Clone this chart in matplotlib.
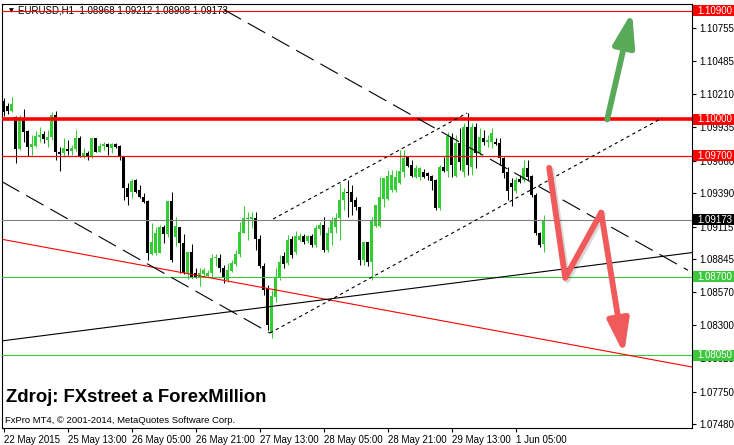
import numpy as np
import matplotlib.pyplot as plt
import matplotlib.patheffects as pe
from matplotlib.patches import Rectangle

plt.rcParams['font.family'] = ['Liberation Sans', 'DejaVu Sans']

# EURUSD H1 candles, first bar 22 May 2015 21:00
opens = [
    1.10153, 1.10112, 1.10070, 1.10021, 1.09756, 1.10012, 1.09905, 1.09773, 1.09781, 1.09855,
    1.09880, 1.09830, 1.09855, 1.10037, 1.09731, 1.09723, 1.09756, 1.09739, 1.09756, 1.09847,
    1.09698, 1.09723, 1.09698, 1.09847, 1.09731, 1.09781, 1.09797, 1.09764, 1.09797, 1.09781,
    1.09690, 1.09434, 1.09400, 1.09500, 1.09417, 1.09359, 1.09326, 1.08888, 1.08896, 1.08896,
    1.09111, 1.09053, 1.09326, 1.09028, 1.09111, 1.08979, 1.08731, 1.08904, 1.08731, 1.08697,
    1.08722, 1.08706, 1.08731, 1.08855, 1.08855, 1.08772, 1.08673, 1.08747, 1.08805, 1.08888,
    1.09061, 1.09177, 1.09177, 1.09185, 1.09012, 1.08788, 1.08607, 1.08235, 1.08532, 1.08697,
    1.08871, 1.08813, 1.09012, 1.08904, 1.09003, 1.09037, 1.08995, 1.09037, 1.08962, 1.09094,
    1.09128, 1.08921, 1.09061, 1.09111, 1.09185, 1.09334, 1.09400, 1.09400, 1.09334, 1.09276,
    1.08838, 1.08987, 1.08822, 1.09119, 1.09119, 1.09343, 1.09343, 1.09417, 1.09417, 1.09475,
    1.09566, 1.09690, 1.09624, 1.09524, 1.09524, 1.09566, 1.09558, 1.09533, 1.09500, 1.09268,
    1.09607, 1.09574, 1.09855, 1.09533, 1.09806, 1.09566, 1.09938, 1.09607, 1.09938, 1.09723,
    1.09847, 1.09814, 1.09814, 1.09814, 1.09806, 1.09682, 1.09566, 1.09475, 1.09409, 1.09508,
    1.09500, 1.09599, 1.09533, 1.09376, 1.09061, 1.08968,
]
highs = [
    1.10178, 1.10136, 1.10186, 1.10029, 1.10037, 1.10087, 1.09913, 1.09872, 1.09905, 1.09938,
    1.09905, 1.09913, 1.10062, 1.10070, 1.09773, 1.09847, 1.09830, 1.09789, 1.09913, 1.09864,
    1.09764, 1.09739, 1.09847, 1.09847, 1.09806, 1.09814, 1.09806, 1.09806, 1.09806, 1.09789,
    1.09690, 1.09475, 1.09508, 1.09508, 1.09458, 1.09392, 1.09334, 1.09144, 1.09111, 1.09128,
    1.09128, 1.09326, 1.09400, 1.09194, 1.09111, 1.09053, 1.08904, 1.08970, 1.08772, 1.08772,
    1.08772, 1.08755, 1.08888, 1.08888, 1.08888, 1.08797, 1.08813, 1.08838, 1.08921, 1.09152,
    1.09285, 1.09235, 1.09235, 1.09235, 1.09045, 1.08813, 1.08631, 1.08590, 1.08772, 1.08879,
    1.08904, 1.09045, 1.09037, 1.09078, 1.09061, 1.09053, 1.09045, 1.09053, 1.09128, 1.09152,
    1.09194, 1.09111, 1.09194, 1.09227, 1.09475, 1.09434, 1.09500, 1.09458, 1.09359, 1.09276,
    1.08987, 1.08987, 1.09194, 1.09293, 1.09524, 1.09516, 1.09582, 1.09582, 1.09582, 1.09748,
    1.09748, 1.09690, 1.09665, 1.09624, 1.09607, 1.09591, 1.09566, 1.09541, 1.09508, 1.09624,
    1.09690, 1.09897, 1.09888, 1.09872, 1.09930, 1.09971, 1.10054, 1.09971, 1.09971, 1.09930,
    1.09913, 1.09872, 1.09930, 1.09847, 1.09847, 1.09690, 1.09607, 1.09516, 1.09524, 1.09541,
    1.09665, 1.09665, 1.09541, 1.09392, 1.09070, 1.09212,
]
lows = [
    1.10029, 1.10045, 1.10062, 1.09640, 1.09748, 1.09814, 1.09698, 1.09706, 1.09773, 1.09814,
    1.09806, 1.09773, 1.09830, 1.09665, 1.09574, 1.09690, 1.09706, 1.09706, 1.09739, 1.09690,
    1.09682, 1.09665, 1.09682, 1.09731, 1.09731, 1.09748, 1.09706, 1.09723, 1.09764, 1.09665,
    1.09334, 1.09293, 1.09351, 1.09392, 1.09351, 1.09309, 1.08838, 1.08879, 1.08879, 1.08896,
    1.08979, 1.09028, 1.08822, 1.08954, 1.08731, 1.08722, 1.08681, 1.08689, 1.08689, 1.08623,
    1.08697, 1.08697, 1.08697, 1.08788, 1.08739, 1.08648, 1.08656, 1.08739, 1.08788, 1.08863,
    1.09061, 1.09003, 1.09103, 1.08921, 1.08772, 1.08549, 1.08259, 1.08193, 1.08491, 1.08673,
    1.08772, 1.08797, 1.08855, 1.08888, 1.08995, 1.08970, 1.08979, 1.08946, 1.08946, 1.09045,
    1.08904, 1.08904, 1.08962, 1.09061, 1.09003, 1.09252, 1.09194, 1.09210, 1.09252, 1.08797,
    1.08797, 1.08788, 1.08673, 1.09111, 1.09111, 1.09276, 1.09334, 1.09400, 1.09400, 1.09467,
    1.09524, 1.09607, 1.09524, 1.09516, 1.09500, 1.09516, 1.09500, 1.09417, 1.09252, 1.09252,
    1.09566, 1.09524, 1.09524, 1.09524, 1.09582, 1.09524, 1.09541, 1.09541, 1.09599, 1.09706,
    1.09789, 1.09773, 1.09764, 1.09789, 1.09624, 1.09516, 1.09334, 1.09285, 1.09392, 1.09475,
    1.09483, 1.09500, 1.09359, 1.09045, 1.08946, 1.08908,
]
closes = [
    1.10062, 1.10070, 1.10128, 1.09756, 1.10012, 1.09897, 1.09773, 1.09797, 1.09864, 1.09872,
    1.09839, 1.09855, 1.10037, 1.09731, 1.09715, 1.09764, 1.09739, 1.09764, 1.09847, 1.09698,
    1.09723, 1.09698, 1.09847, 1.09731, 1.09781, 1.09797, 1.09773, 1.09797, 1.09773, 1.09690,
    1.09434, 1.09359, 1.09491, 1.09400, 1.09359, 1.09318, 1.08896, 1.08987, 1.09061, 1.09111,
    1.09053, 1.09326, 1.08838, 1.09119, 1.08979, 1.08731, 1.08904, 1.08697, 1.08697, 1.08731,
    1.08755, 1.08731, 1.08855, 1.08863, 1.08772, 1.08689, 1.08755, 1.08813, 1.08888, 1.09070,
    1.09185, 1.09185, 1.09194, 1.09012, 1.08788, 1.08590, 1.08301, 1.08540, 1.08697, 1.08822,
    1.08805, 1.09003, 1.08879, 1.09037, 1.09037, 1.08987, 1.09037, 1.08962, 1.09103, 1.09128,
    1.08921, 1.09061, 1.09169, 1.09185, 1.09334, 1.09400, 1.09392, 1.09318, 1.09276, 1.08838,
    1.08987, 1.08822, 1.09161, 1.09293, 1.09359, 1.09516, 1.09533, 1.09541, 1.09524, 1.09574,
    1.09682, 1.09615, 1.09533, 1.09599, 1.09599, 1.09524, 1.09533, 1.09491, 1.09268, 1.09607,
    1.09574, 1.09864, 1.09624, 1.09806, 1.09649, 1.09938, 1.09624, 1.09938, 1.09723, 1.09855,
    1.09814, 1.09830, 1.09888, 1.09797, 1.09682, 1.09558, 1.09409, 1.09442, 1.09500, 1.09483,
    1.09599, 1.09524, 1.09376, 1.09061, 1.08962, 1.09173,
]

time_labels = ['22 May 2015', '25 May 13:00', '26 May 05:00', '26 May 21:00', '27 May 13:00',
               '28 May 05:00', '28 May 21:00', '29 May 13:00', '1 Jun 05:00']
label_bars = [0, 16, 32, 48, 64, 80, 96, 112, 128]
price_ticks = [1.10755, 1.10485, 1.10210, 1.09935, 1.09660, 1.09390, 1.09115,
               1.08845, 1.08570, 1.08300, 1.08025, 1.07750, 1.07480]

# horizontal levels
levels = [1.10900, 1.10000, 1.09700, 1.09173, 1.08700, 1.08050]
level_colors = ['#ff0000', '#ff0000', '#ff0000', '#808080', '#3cc83c', '#3cc83c']
level_box_colors = ['#ff0000', '#ff0000', '#ff0000', '#000000', '#3cc83c', '#3cc83c']
level_widths = [0.8, 2.6, 0.9, 0.8, 0.8, 0.8]

# trend lines (bar index, price)
red_trend_x, red_trend_y = [0, 172], [1.09007, 1.07954]
black_trend_x, black_trend_y = [0, 172], [1.08171, 1.08899]
dash1_x, dash1_y = [-0.4, 66.6], [1.09486, 1.08234]
dash2_x, dash2_y = [55, 171.1], [1.10910, 1.08753]
chan_low_x, chan_low_y = [66.6, 164.6], [1.08234, 1.10012]
chan_high_x, chan_high_y = [67.4, 115.9], [1.09177, 1.10054]

# drawn arrows
red_arrow_x = [136.4, 140.4, 149.4, 155.1]
red_arrow_y = [1.0960, 1.0869, 1.0923, 1.0806]
green_arrow_x = [150.9, 157.1]
green_arrow_y = [1.1000, 1.1089]

fig = plt.figure(figsize=(7.34, 4.45), dpi=100)
ax = fig.add_axes([2 / 734, 17 / 445, 690 / 734, 424 / 445])
ax.set_xlim(-0.375, 172.1)
ax.set_ylim(1.07449, 1.10955)

o = np.array(opens)
c = np.array(closes)
idx = np.arange(len(o))
bull = c >= o
cols = np.where(bull, '#32cd32', '#000000')
ax.vlines(idx, lows, highs, colors=cols, lw=0.75, zorder=2)
ax.bar(idx, np.maximum(np.abs(c - o), 0.00007), bottom=np.minimum(o, c),
       width=0.72, color=cols, linewidth=0, zorder=2)

for p, col, w in zip(levels, level_colors, level_widths):
    ax.axhline(p, color=col, lw=w, zorder=3)

ax.plot(red_trend_x, red_trend_y, color='#ff0000', lw=0.8, zorder=3)
ax.plot(black_trend_x, black_trend_y, color='black', lw=0.8, zorder=3)
ax.plot(dash1_x, dash1_y, color='black', lw=0.8, dashes=(18, 7), zorder=3)
ax.plot(dash2_x, dash2_y, color='black', lw=0.8, dashes=(18, 7), zorder=3)
ax.plot(chan_low_x, chan_low_y, color='black', lw=0.8, dashes=(3, 3), zorder=3)
ax.plot(chan_high_x, chan_high_y, color='black', lw=0.8, dashes=(3, 3), zorder=3)

line_shadow = [pe.SimpleLineShadow(offset=(1.5, -1.5), alpha=0.15), pe.Normal()]
patch_shadow = [pe.SimplePatchShadow(offset=(1.5, -1.5), alpha=0.15), pe.Normal()]
red_c = '#f05a5a'
green_c = '#58aa58'
ax.plot(red_arrow_x[:3], red_arrow_y[:3], color=red_c, lw=4.2,
        solid_capstyle='round', solid_joinstyle='round', zorder=4, path_effects=line_shadow)
arrow_kw = dict(arrowstyle='-|>,head_length=1.0,head_width=0.32', lw=4.2,
                mutation_scale=20, capstyle='round', shrinkA=0, shrinkB=0,
                path_effects=patch_shadow)
ax.annotate('', xy=(red_arrow_x[3], red_arrow_y[3]), xytext=(red_arrow_x[2], red_arrow_y[2]),
            arrowprops=dict(color=red_c, **arrow_kw), zorder=4)
ax.annotate('', xy=(green_arrow_x[1], green_arrow_y[1]), xytext=(green_arrow_x[0], green_arrow_y[0]),
            arrowprops=dict(color=green_c, **arrow_kw), zorder=4)

# axes look
for s in ax.spines.values():
    s.set_linewidth(0.8)
    s.set_color('black')
ax.yaxis.tick_right()
ax.set_yticks(price_ticks)
ax.set_yticklabels([f'{p:.5f}' for p in price_ticks])
ax.set_xticks(label_bars)
ax.set_xticklabels(time_labels, ha='left')
ax.tick_params(axis='both', direction='out', length=3, width=0.8, labelsize=7, pad=2)

# level labels on price scale
ytr = ax.get_yaxis_transform()
box_h = 0.00092
for p, bc in zip(levels, level_box_colors):
    ax.add_patch(Rectangle((1.0015, p - box_h / 2), 0.06, box_h, transform=ytr,
                           facecolor=bc, edgecolor='none', clip_on=False, zorder=5))
    ax.text(1.0075, p, f'{p:.5f}', transform=ytr, ha='left', va='center',
            color='white', fontsize=7, clip_on=False, zorder=6)

header = f'EURUSD,H1  {opens[-1]:.5f} {highs[-1]:.5f} {lows[-1]:.5f} {closes[-1]:.5f}'
ax.text(0.01, 0.985, '\u25bc', transform=ax.transAxes, fontsize=4.5, va='center',
        family='DejaVu Sans', zorder=1)
ax.text(0.023, 0.985, header, transform=ax.transAxes, fontsize=7, va='center', zorder=1)
ax.text(0.006, 0.071, 'Zdroj: FXstreet a ForexMillion', transform=ax.transAxes,
        fontsize=13.3, fontweight='bold', va='center', zorder=6)
ax.text(0.005, 0.017, 'FxPro MT4, \u00a9 2001-2014, MetaQuotes Software Corp.',
        transform=ax.transAxes, fontsize=6.8, va='center', zorder=6)

fig.savefig('out.png', dpi=100, facecolor='white')
